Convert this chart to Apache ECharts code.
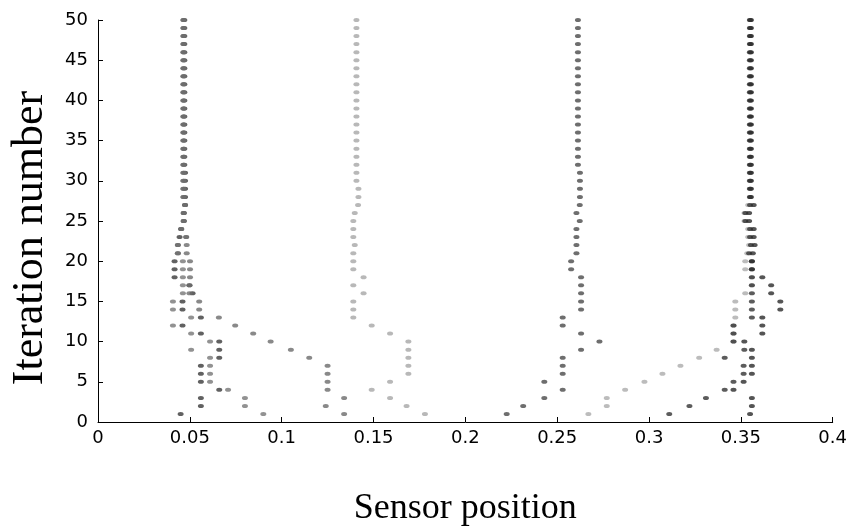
<!DOCTYPE html>
<html>
<head>
<meta charset="utf-8">
<script src="https://cdn.jsdelivr.net/npm/echarts@6/dist/echarts.min.js"></script>
<style>
  html, body { margin: 0; background: #fff; }
  #chart { width: 850px; height: 532px; }
</style>
</head>
<body>
<div id="chart"></div>
<script>
// sensor positions per iteration (index 0 = iteration 1)
const sensorA = [0.045, 0.056, 0.056, 0.066, 0.056, 0.056, 0.056, 0.066, 0.066, 0.066,
  0.056, 0.046, 0.056, 0.046, 0.046, 0.0515, 0.0498, 0.0417, 0.0417, 0.0417,
  0.0435, 0.0435, 0.0444, 0.0453, 0.0467, 0.0467, 0.0474, 0.0474, 0.0474, 0.0474,
  0.0474, 0.047, 0.047, 0.047, 0.047, 0.047, 0.047, 0.047, 0.047, 0.047,
  0.047, 0.047, 0.047, 0.047, 0.047, 0.047, 0.047, 0.047, 0.047, 0.047];
const sensorB = [0.09, 0.08, 0.08, 0.0708, 0.061, 0.061, 0.061, 0.061, 0.0507, 0.061,
  0.0507, 0.0408, 0.0507, 0.0408, 0.0408, 0.0462, 0.0462, 0.0462, 0.0462, 0.0462,
  0.0435, 0.0435, 0.048, 0.0453, 0.0467, 0.0467, 0.0474, 0.0465, 0.0465, 0.0465,
  0.0465, 0.0465, 0.0465, 0.0465, 0.0465, 0.0465, 0.0465, 0.0465, 0.0465, 0.0465,
  0.0465, 0.0465, 0.0465, 0.0465, 0.0465, 0.0465, 0.0465, 0.0465, 0.0465, 0.0465];
const sensorC = [0.134, 0.124, 0.134, 0.125, 0.125, 0.125, 0.125, 0.115, 0.105, 0.094,
  0.0845, 0.0747, 0.0658, 0.0551, 0.0551, 0.0498, 0.0498, 0.0501, 0.0501, 0.0501,
  0.0483, 0.0483, 0.048, 0.0453, 0.0467, 0.0467, 0.0474, 0.0465, 0.0465, 0.0465,
  0.0465, 0.0465, 0.0465, 0.0465, 0.0465, 0.0465, 0.0465, 0.0465, 0.0465, 0.0465,
  0.0465, 0.0465, 0.0465, 0.0465, 0.0465, 0.0465, 0.0465, 0.0465, 0.0465, 0.0465];
const sensorD = [0.178, 0.168, 0.159, 0.149, 0.159, 0.169, 0.169, 0.169, 0.169, 0.169,
  0.159, 0.149, 0.139, 0.139, 0.139, 0.1446, 0.139, 0.1446, 0.139, 0.139,
  0.139, 0.1398, 0.139, 0.139, 0.139, 0.1398, 0.1416, 0.1418, 0.1418, 0.1407,
  0.1407, 0.1407, 0.1407, 0.1407, 0.1407, 0.1407, 0.1407, 0.1407, 0.1407, 0.1407,
  0.1407, 0.1407, 0.1407, 0.1407, 0.1407, 0.1407, 0.1407, 0.1407, 0.1407, 0.1407];
const sensorE = [0.2225, 0.2315, 0.243, 0.253, 0.243, 0.253, 0.253, 0.253, 0.263, 0.273,
  0.263, 0.253, 0.253, 0.263, 0.263, 0.263, 0.263, 0.263, 0.2576, 0.2576,
  0.2605, 0.2605, 0.2605, 0.2605, 0.2623, 0.2605, 0.2623, 0.2624, 0.2624, 0.2624,
  0.2624, 0.2613, 0.2613, 0.2613, 0.2613, 0.2613, 0.2613, 0.2613, 0.2613, 0.2613,
  0.2613, 0.2613, 0.2613, 0.2613, 0.2613, 0.2613, 0.2613, 0.2613, 0.2613, 0.2613];
const sensorF = [0.267, 0.277, 0.277, 0.287, 0.2975, 0.3073, 0.3171, 0.3273, 0.3368, 0.346,
  0.346, 0.346, 0.347, 0.347, 0.347, 0.3524, 0.356, 0.356, 0.3524, 0.3524,
  0.3535, 0.3545, 0.354, 0.354, 0.352, 0.352, 0.354, 0.355, 0.355, 0.355,
  0.355, 0.355, 0.355, 0.355, 0.355, 0.355, 0.355, 0.355, 0.355, 0.355,
  0.355, 0.355, 0.355, 0.355, 0.355, 0.355, 0.355, 0.355, 0.355, 0.355];
const sensorG = [0.311, 0.322, 0.331, 0.3412, 0.346, 0.3515, 0.3515, 0.3412, 0.3519, 0.346,
  0.346, 0.346, 0.356, 0.356, 0.356, 0.356, 0.356, 0.356, 0.356, 0.356,
  0.3545, 0.3555, 0.355, 0.355, 0.3525, 0.3525, 0.355, 0.3549, 0.3549, 0.3549,
  0.3549, 0.3549, 0.3549, 0.3549, 0.3549, 0.3549, 0.3549, 0.3549, 0.3549, 0.3549,
  0.3549, 0.3549, 0.3549, 0.3549, 0.3549, 0.3549, 0.3549, 0.3549, 0.3549, 0.3549];
const sensorH = [0.355, 0.356, 0.356, 0.346, 0.3515, 0.356, 0.356, 0.356, 0.356, 0.3519,
  0.3617, 0.3617, 0.3617, 0.3715, 0.3715, 0.3665, 0.3665, 0.3617, 0.356, 0.356,
  0.3565, 0.3575, 0.357, 0.357, 0.3545, 0.3545, 0.357, 0.3555, 0.3555, 0.3555,
  0.3555, 0.3555, 0.3555, 0.3555, 0.3555, 0.3555, 0.3555, 0.3555, 0.3555, 0.3555,
  0.3555, 0.3555, 0.3555, 0.3555, 0.3555, 0.3555, 0.3555, 0.3555, 0.3555, 0.3555];

const sensors = [
  { values: sensorA, color: "#3a3a3a" },
  { values: sensorB, color: "#777777" },
  { values: sensorC, color: "#6c6c6c" },
  { values: sensorD, color: "#a6a6a6" },
  { values: sensorE, color: "#4a4a4a" },
  { values: sensorF, color: "#ababab" },
  { values: sensorG, color: "#333333" },
  { values: sensorH, color: "#2a2a2a" },
];

const tickFont = { color: "#000", fontSize: 18, fontFamily: "DejaVu Sans, sans-serif" };
const titleFont = { color: "#000", fontFamily: "Liberation Serif, Times New Roman, serif" };
const axisBlack = { lineStyle: { color: "#000", width: 1 } };

const chart = echarts.init(document.getElementById("chart"), null, { renderer: "canvas" });

chart.setOption({
  animation: false,
  backgroundColor: "#fff",
  grid: { left: 92, right: 16, top: 20, bottom: 77 },
  xAxis: {
    type: "value",
    min: 0,
    max: 0.4,
    interval: 0.05,
    axisLine: axisBlack,
    axisTick: { inside: true, length: 5, lineStyle: { color: "#000" } },
    axisLabel: { ...tickFont, margin: 7, formatter: (v) => String(+v.toFixed(2)) },
    splitLine: { show: false },
    name: "Sensor position",
    nameLocation: "middle",
    nameGap: 69,
    nameTextStyle: { ...titleFont, fontSize: 36 },
  },
  yAxis: {
    type: "value",
    min: 0,
    max: 50,
    interval: 5,
    axisLine: { show: true, ...axisBlack },
    axisTick: { show: true, inside: true, length: 5, lineStyle: { color: "#000" } },
    axisLabel: { ...tickFont, margin: 10 },
    splitLine: { show: false },
    name: "Iteration number",
    nameLocation: "middle",
    nameGap: 46,
    nameRotate: 90,
    nameTextStyle: { ...titleFont, fontSize: 44, padding: [0, 34, 0, 0] },
  },
  series: sensors.map((s) => ({
    type: "scatter",
    symbol: "circle",
    symbolSize: [6, 4],
    itemStyle: { color: s.color },
    data: s.values.map((v, i) => [v, i + 1]),
  })),
});
</script>
</body>
</html>
